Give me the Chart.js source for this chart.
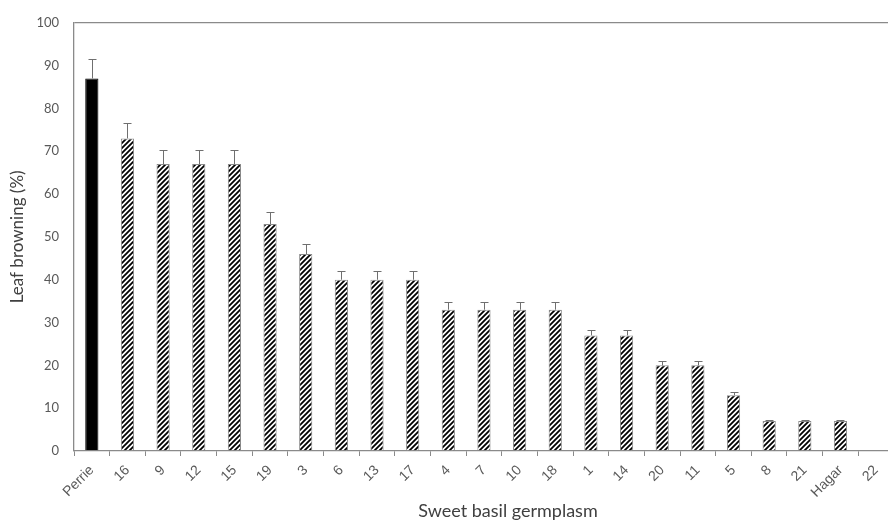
<!DOCTYPE html>
<html>
<head>
<meta charset="utf-8">
<script src="https://cdn.jsdelivr.net/npm/chart.js@4"></script>
<style>
    html, body { margin: 0; padding: 0; background: #fff; overflow: hidden; }
    #wrap { width: 894px; height: 521px; }
</style>
</head>
<body>
<div id="wrap"><canvas id="browningChart" width="894" height="521"></canvas></div>
<script>
const germplasm = ['Perrie', '16', '9', '12', '15', '19', '3', '6', '13', '17', '4', '7', '10', '18', '1', '14', '20', '11', '5', '8', '21', 'Hagar', '22'];
const browning = [87, 73, 67, 67, 67, 53, 46, 40, 40, 40, 33, 33, 33, 33, 27, 27, 20, 20, 13, 7, 7, 7, 0];
const stdErr = [4.5, 3.7, 3.3, 3.3, 3.3, 2.7, 2.3, 2, 2, 2, 1.7, 1.7, 1.7, 1.7, 1.3, 1.3, 1, 1, 0.7, 0.3, 0.3, 0.3, 0];
const yTicks = [0, 10, 20, 30, 40, 50, 60, 70, 80, 90, 100];

function hatchPattern() {
    const size = 5;
    const c = document.createElement('canvas');
    c.width = size;
    c.height = size;
    const g = c.getContext('2d');
    g.fillStyle = '#fff';
    g.fillRect(0, 0, size, size);
    g.strokeStyle = '#000';
    g.lineWidth = 1.8;
    g.beginPath();
    g.moveTo(-1, size + 1); g.lineTo(size + 1, -1);
    g.moveTo(-2, 2); g.lineTo(2, -2);
    g.moveTo(size - 2, size + 2); g.lineTo(size + 2, size - 2);
    g.stroke();
    return g.createPattern(c, 'repeat');
}

// error bars, plus side only
const errorBars = {
    id: 'errorBars',
    afterDatasetsDraw(chart) {
        const ctx = chart.ctx;
        const y = chart.scales.y;
        const meta = chart.getDatasetMeta(0);
        ctx.save();
        ctx.strokeStyle = '#6f6f6f';
        ctx.lineWidth = 1;
        meta.data.forEach((bar, i) => {
            if (!stdErr[i]) return;
            const top = Math.round(y.getPixelForValue(browning[i] + stdErr[i])) + 0.5;
            const x = Math.round(bar.x) + 0.5;
            ctx.beginPath();
            ctx.moveTo(x, bar.y);
            ctx.lineTo(x, top);
            ctx.moveTo(x - 4, top);
            ctx.lineTo(x + 4, top);
            ctx.stroke();
        });
        ctx.restore();
    }
};

const xTitle = {
    id: 'xTitle',
    afterDraw(chart) {
        const ctx = chart.ctx;
        ctx.save();
        ctx.font = '18px Lato';
        ctx.fillStyle = '#404040';
        ctx.textAlign = 'center';
        ctx.textBaseline = 'alphabetic';
        ctx.fillText('Sweet basil germplasm', chart.chartArea.left + 434, 517);
        ctx.restore();
    }
};

window.addEventListener('load', () => {
    const hatch = hatchPattern();
    new Chart(document.getElementById('browningChart').getContext('2d'), {
        type: 'bar',
        data: {
            labels: germplasm,
            datasets: [{
                data: browning,
                backgroundColor: germplasm.map((g, i) => i === 0 ? '#000' : hatch),
                borderColor: germplasm.map((g, i) => i === 0 ? '#000' : '#8a8a8a'),
                borderWidth: 1,
                barPercentage: 0.37,
                categoryPercentage: 1
            }]
        },
        options: {
            responsive: false,
            animation: false,
            devicePixelRatio: 1,
            layout: { padding: { top: 19, right: 0, left: 0, bottom: 0 } },
            plugins: {
                legend: { display: false },
                tooltip: { enabled: false }
            },
            scales: {
                x: {
                    grid: {
                        display: true,
                        drawOnChartArea: false,
                        drawTicks: true,
                        tickLength: 5,
                        color: '#8a8a8a'
                    },
                    border: { color: '#8a8a8a', width: 1.3 },
                    ticks: {
                        minRotation: 45,
                        maxRotation: 45,
                        padding: 6,
                        color: '#595959',
                        font: { family: 'Liberation Sans', size: 14 }
                    },
                    afterFit: s => { s.height = 70; }
                },
                y: {
                    min: 0,
                    max: 100,
                    afterBuildTicks: s => { s.ticks = yTicks.map(v => ({ value: v })); },
                    grid: {
                        drawTicks: false,
                        color: c => c.tick && c.tick.value === 100 ? '#8a8a8a' : 'rgba(0,0,0,0)',
                        lineWidth: 1.3
                    },
                    border: { color: '#8a8a8a', width: 1.3 },
                    ticks: {
                        padding: 15,
                        color: '#595959',
                        font: { family: 'Lato', size: 13 }
                    },
                    title: {
                        display: true,
                        text: 'Leaf browning (%)',
                        color: '#404040',
                        font: { family: 'Lato', size: 17 },
                        padding: { top: 7, bottom: 0 }
                    },
                    afterFit: s => { s.width = 74; }
                }
            }
        },
        plugins: [errorBars, xTitle]
    });
});
</script>
</body>
</html>
